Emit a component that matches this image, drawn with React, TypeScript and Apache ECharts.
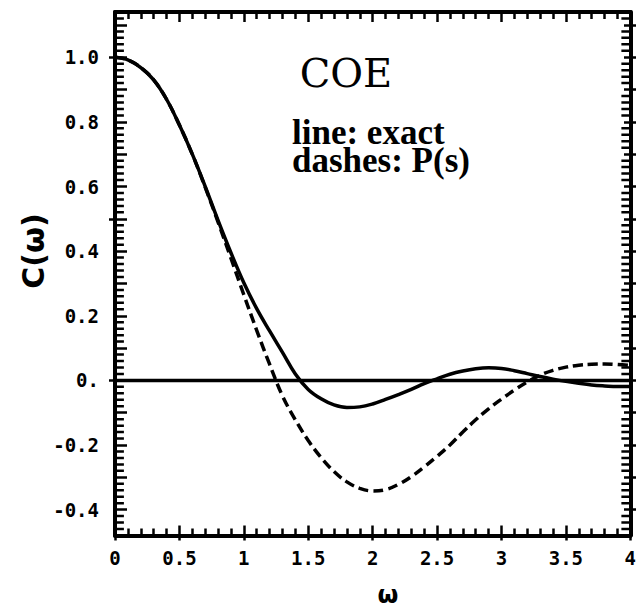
import React, { useEffect, useRef } from "react";
import * as echarts from "echarts";

const OMEGA = [
  0.0, 0.1, 0.2, 0.3, 0.4, 0.5, 0.6, 0.7, 0.8, 0.9,
  1.0, 1.1, 1.2, 1.3, 1.4, 1.5, 1.6, 1.7, 1.8, 1.9,
  2.0, 2.1, 2.2, 2.3, 2.4, 2.5, 2.6, 2.7, 2.8, 2.9,
  3.0, 3.1, 3.2, 3.3, 3.4, 3.5, 3.6, 3.7, 3.8, 3.9, 4.0,
];

const EXACT = [
  1.0, 0.992, 0.968, 0.93, 0.87, 0.79, 0.7, 0.6, 0.495, 0.395,
  0.302, 0.222, 0.153, 0.087, 0.02, -0.028, -0.057, -0.076, -0.084, -0.082,
  -0.073, -0.059, -0.044, -0.028, -0.01, 0.005, 0.019, 0.029, 0.036, 0.039,
  0.037, 0.03, 0.021, 0.012, 0.004, -0.003, -0.009, -0.014, -0.017, -0.019, -0.019,
];

const PS = [
  1.0, 0.992, 0.968, 0.93, 0.87, 0.79, 0.7, 0.598, 0.49, 0.378,
  0.265, 0.155, 0.05, -0.048, -0.122, -0.186, -0.239, -0.282, -0.314, -0.334,
  -0.342, -0.338, -0.322, -0.298, -0.268, -0.235, -0.2, -0.16, -0.122, -0.088,
  -0.058, -0.03, -0.005, 0.016, 0.031, 0.041, 0.047, 0.05, 0.051, 0.049, 0.046,
];

const ZERO_X = [0, 4];

const X_MIN = 0;
const X_MAX = 4;
const X_LABEL_STEP = 0.5;
const X_MINOR_SPLIT = 5;

const Y_MIN = -0.48;
const Y_MAX = 1.14;
const Y_MINOR_TICKS = [
  -0.46, -0.44, -0.42, -0.38, -0.36, -0.34, -0.32, -0.28, -0.26, -0.24, -0.22,
  -0.18, -0.16, -0.14, -0.12, -0.08, -0.06, -0.04, -0.02,
  0.02, 0.04, 0.06, 0.08, 0.12, 0.14, 0.16, 0.18, 0.22, 0.24, 0.26, 0.28,
  0.32, 0.34, 0.36, 0.38, 0.42, 0.44, 0.46, 0.48, 0.52, 0.54, 0.56, 0.58,
  0.62, 0.64, 0.66, 0.68, 0.72, 0.74, 0.76, 0.78, 0.82, 0.84, 0.86, 0.88,
  0.92, 0.94, 0.96, 0.98, 1.02, 1.04, 1.06, 1.08, 1.12,
];
const Y_MID_RANGE = [-0.4, 1.1];
const Y_MID_STEP = 0.1;
const Y_LABEL_RANGE = [-0.4, 1.0];
const Y_LABEL_STEP = 0.2;
const Y_OUT_RANGE = [0, 1];
const Y_OUT_STEP = 0.5;

const TITLE = "COE";
const NOTE = "line: exact\ndashes: P(s)";
const Y_NAME = "C(ω)";
const X_NAME = "ω";

const W = 639;
const H = 611;
const PLOT_LEFT = 115;
const PLOT_RIGHT = 636;
const PLOT_TOP = 12;
const PLOT_BOTTOM = 535.5;
const MINOR_TICK_PX = 9;

const BLACK = "#000";
const LABEL_FONT = "'DejaVu Sans Mono', monospace";

function yPix(v: number) {
  const k = (PLOT_BOTTOM - PLOT_TOP) / (Y_MAX - Y_MIN);
  return PLOT_TOP + (Y_MAX - v) * k;
}

function gridFor(range: number[]) {
  return {
    left: PLOT_LEFT,
    right: W - PLOT_RIGHT,
    top: yPix(range[1]),
    bottom: H - yPix(range[0]),
    containLabel: false,
  };
}

export default function App() {
  const ref = useRef<HTMLDivElement>(null);

  useEffect(() => {
    if (!ref.current) return;
    const chart = echarts.init(ref.current, null, { renderer: "svg" });

    const tickStyle = { color: BLACK, width: 2.5 };
    const lineStyle = { color: BLACK, width: 4 };
    const tickDx = (MINOR_TICK_PX * (X_MAX - X_MIN)) / (PLOT_RIGHT - PLOT_LEFT);

    const xBase = {
      type: "value" as const,
      min: X_MIN,
      max: X_MAX,
      interval: X_LABEL_STEP,
      splitLine: { show: false },
      minorSplitLine: { show: false },
    };
    const hiddenX = (gridIndex: number) => ({
      type: "value" as const,
      gridIndex,
      min: X_MIN,
      max: X_MAX,
      show: false,
    });
    const yAxisOn = (gridIndex: number, range: number[], step: number | undefined, extra: any) => ({
      type: "value" as const,
      gridIndex,
      min: range[0],
      max: range[1],
      ...(step != null ? { interval: step } : {}),
      splitLine: { show: false },
      minorSplitLine: { show: false },
      axisLine: { show: false, onZero: false },
      axisTick: { show: false },
      axisLabel: { show: false },
      ...extra,
    });

    const minorTickSeries = (side: "left" | "right") => ({
      name: "minor ticks " + side,
      type: "line",
      xAxisIndex: 0,
      yAxisIndex: 0,
      silent: true,
      showSymbol: false,
      z: 10,
      connectNulls: false,
      lineStyle: { color: BLACK, width: 2.5 },
      data: Y_MINOR_TICKS.flatMap((v) =>
        side === "left"
          ? [[X_MIN, v], [X_MIN + tickDx, v], [null, null]]
          : [[X_MAX - tickDx, v], [X_MAX, v], [null, null]]
      ),
    });

    const option: any = {
      animation: false,
      backgroundColor: "#fff",
      grid: [
        { left: PLOT_LEFT, right: W - PLOT_RIGHT, top: PLOT_TOP, bottom: H - PLOT_BOTTOM, containLabel: false },
        gridFor(Y_MID_RANGE),
        gridFor(Y_OUT_RANGE),
        gridFor(Y_LABEL_RANGE),
      ],
      xAxis: [
        {
          ...xBase,
          gridIndex: 0,
          position: "bottom",
          axisLine: { show: true, onZero: false, lineStyle },
          axisTick: { show: true, inside: true, length: 10, lineStyle: tickStyle },
          minorTick: { show: true, splitNumber: X_MINOR_SPLIT, length: 7, lineStyle: tickStyle },
          axisLabel: {
            show: true,
            margin: 13,
            color: BLACK,
            fontFamily: LABEL_FONT,
            fontWeight: "bold",
            fontSize: 19,
            showMaxLabel: true,
            showMinLabel: true,
            formatter: (v: number) => String(v),
          },
        },
        {
          ...xBase,
          gridIndex: 0,
          position: "bottom",
          axisLine: { show: false, onZero: false },
          axisTick: { show: true, inside: false, length: 5, lineStyle: tickStyle },
          axisLabel: { show: false },
        },
        {
          ...xBase,
          gridIndex: 0,
          position: "top",
          axisLine: { show: true, onZero: false, lineStyle },
          axisTick: { show: true, inside: true, length: 10, lineStyle: tickStyle },
          minorTick: { show: true, splitNumber: X_MINOR_SPLIT, length: 7, lineStyle: tickStyle },
          axisLabel: { show: false },
        },
        hiddenX(1),
        hiddenX(2),
        hiddenX(3),
      ],
      yAxis: [
        yAxisOn(0, [Y_MIN, Y_MAX], undefined, {
          position: "left",
          axisLine: { show: true, onZero: false, lineStyle },
        }),
        yAxisOn(0, [Y_MIN, Y_MAX], undefined, {
          position: "right",
          axisLine: { show: true, onZero: false, lineStyle },
        }),
        yAxisOn(1, Y_MID_RANGE, Y_MID_STEP, {
          position: "left",
          axisTick: { show: true, inside: true, length: 12, lineStyle: tickStyle },
        }),
        yAxisOn(1, Y_MID_RANGE, Y_MID_STEP, {
          position: "right",
          axisTick: { show: true, inside: true, length: 12, lineStyle: tickStyle },
        }),
        yAxisOn(2, Y_OUT_RANGE, Y_OUT_STEP, {
          position: "left",
          axisTick: { show: true, inside: false, length: 6, lineStyle: tickStyle },
        }),
        yAxisOn(3, Y_LABEL_RANGE, Y_LABEL_STEP, {
          position: "left",
          axisLabel: {
            show: true,
            margin: 16,
            color: BLACK,
            fontFamily: LABEL_FONT,
            fontWeight: "bold",
            fontSize: 19,
            showMaxLabel: true,
            showMinLabel: true,
            formatter: (v: number) => (Math.abs(v) < 1e-9 ? "0." : v.toFixed(1)),
          },
        }),
      ],
      series: [
        minorTickSeries("left"),
        minorTickSeries("right"),
        {
          name: "zero",
          type: "line",
          xAxisIndex: 0,
          yAxisIndex: 0,
          data: ZERO_X.map((x) => [x, 0]),
          showSymbol: false,
          lineStyle: { color: BLACK, width: 3.5 },
          z: 2,
        },
        {
          name: "P(s)",
          type: "line",
          xAxisIndex: 0,
          yAxisIndex: 0,
          data: OMEGA.map((x, i) => [x, PS[i]]),
          smooth: 0.4,
          showSymbol: false,
          lineStyle: { color: BLACK, width: 3.5, type: [10, 5] },
          z: 3,
        },
        {
          name: "exact",
          type: "line",
          xAxisIndex: 0,
          yAxisIndex: 0,
          data: OMEGA.map((x, i) => [x, EXACT[i]]),
          smooth: 0.4,
          showSymbol: false,
          lineStyle: { color: BLACK, width: 3.5 },
          z: 4,
        },
      ],
      graphic: [
        {
          type: "text",
          x: 346,
          y: 73,
          style: {
            text: TITLE,
            font: "40px 'DejaVu Serif', serif",
            fill: BLACK,
            textAlign: "center",
            textVerticalAlign: "middle",
          },
        },
        {
          type: "text",
          x: 292,
          y: 118,
          style: {
            text: NOTE,
            font: "bold 35px 'Liberation Serif', serif",
            lineHeight: 28,
            fill: BLACK,
            textAlign: "left",
            textVerticalAlign: "top",
          },
        },
        {
          type: "text",
          x: 33,
          y: 251,
          rotation: Math.PI / 2,
          style: {
            text: Y_NAME,
            font: "bold 30px 'DejaVu Sans', sans-serif",
            fill: BLACK,
            textAlign: "center",
            textVerticalAlign: "middle",
          },
        },
        {
          type: "text",
          x: 388,
          y: 595,
          style: {
            text: X_NAME,
            font: "bold 24px 'DejaVu Sans', sans-serif",
            fill: BLACK,
            textAlign: "center",
            textVerticalAlign: "middle",
          },
        },
      ],
    };

    chart.setOption(option);
    return () => chart.dispose();
  }, []);

  return (
    <div
      ref={ref}
      style={{ position: "fixed", left: 0, top: 0, width: W, height: H, background: "#fff" }}
    />
  );
}
